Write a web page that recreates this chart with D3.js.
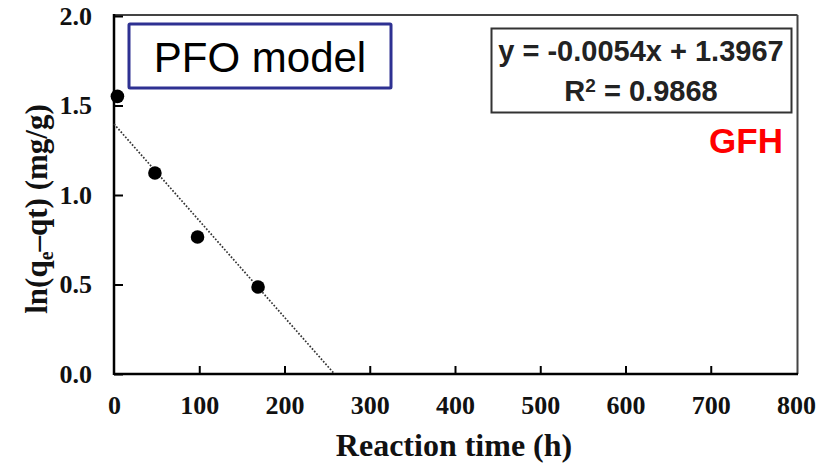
<!DOCTYPE html>
<html>
<head>
<meta charset="utf-8">
<script src="https://cdn.jsdelivr.net/npm/d3@7"></script>
<style>
  body { margin: 0; background: #fff; }
  svg { display: block; }
</style>
</head>
<body>
<div id="chart"></div>
<script>
// data
const times = [4, 48, 98, 169];
const lnValues = [1.551, 1.123, 0.765, 0.486];
const xTicks = [0, 100, 200, 300, 400, 500, 600, 700, 800];
const yTicks = [0, 0.5, 1.0, 1.5, 2.0];
const slope = -0.0054;
const intercept = 1.3967;
const eqLines = ['y = -0.0054x + 1.3967', 'R', '2', ' = 0.9868'];

const W = 817, H = 465;
const mLeft = 114, mTop = 16, mRight = 796, mBottom = 374;

const svg = d3.select('#chart').append('svg')
  .attr('width', W).attr('height', H);

const x = d3.scaleLinear().domain([0, 800]).range([mLeft, mRight]);
const y = d3.scaleLinear().domain([0, 2]).range([mBottom, mTop]);

const serif = '"Liberation Serif", "Times New Roman", serif';
const sans = '"Liberation Sans", Arial, sans-serif';

// frame: top & right thinner grey
svg.append('line')
  .attr('x1', mLeft).attr('x2', mRight + 1.5).attr('y1', mTop - 1).attr('y2', mTop - 1)
  .attr('stroke', '#444').attr('stroke-width', 2);
svg.append('line')
  .attr('x1', mRight + 1.5).attr('x2', mRight + 1.5).attr('y1', mTop - 1).attr('y2', mBottom)
  .attr('stroke', '#444').attr('stroke-width', 2);

// axes
const xAxis = d3.axisBottom(x).tickValues(xTicks).tickSizeInner(-8).tickSizeOuter(0)
  .tickPadding(22).tickFormat(d3.format('d'));
const yAxis = d3.axisLeft(y).tickValues(yTicks).tickSizeInner(-9).tickSizeOuter(0)
  .tickPadding(22).tickFormat(d3.format('.1f'));

const gx = svg.append('g').attr('transform', `translate(0,${mBottom})`).call(xAxis);
const gy = svg.append('g').attr('transform', `translate(${mLeft},0)`).call(yAxis);

[gx, gy].forEach(g => {
  g.select('.domain').remove();
  g.selectAll('.tick line').attr('stroke', '#000').attr('stroke-width', 2);
  g.selectAll('.tick text')
    .attr('fill', '#111')
    .style('font-family', serif)
    .style('font-weight', 'bold')
    .style('font-size', '26px');
});
gx.selectAll('.tick').filter(d => d === 0 || d === 800).select('line').remove();

svg.append('line')
  .attr('x1', mLeft).attr('x2', mRight + 2).attr('y1', mBottom).attr('y2', mBottom)
  .attr('stroke', '#000').attr('stroke-width', 2.5);
svg.append('line')
  .attr('x1', mLeft).attr('x2', mLeft).attr('y1', mTop - 2).attr('y2', mBottom + 1)
  .attr('stroke', '#000').attr('stroke-width', 2.5);

// trend line
const xEnd = -intercept / slope;
svg.append('line')
  .attr('x1', x(0)).attr('y1', y(intercept))
  .attr('x2', x(xEnd)).attr('y2', y(0))
  .attr('stroke', '#333').attr('stroke-width', 1.7)
  .attr('stroke-dasharray', '1.7,1.7');

// points
svg.selectAll('circle.pt')
  .data(times.map((t, i) => ({ t, v: lnValues[i] })))
  .join('circle')
  .attr('class', 'pt')
  .attr('cx', d => x(d.t))
  .attr('cy', d => y(d.v))
  .attr('r', 6.8)
  .attr('fill', '#000');

// axis titles
svg.append('text')
  .attr('x', 454).attr('y', 456)
  .attr('text-anchor', 'middle')
  .style('font-family', serif).style('font-weight', 'bold').style('font-size', '32px')
  .attr('fill', '#111')
  .text('Reaction time (h)');

const yt = svg.append('text')
  .attr('transform', 'translate(47,209) rotate(-90)')
  .attr('text-anchor', 'middle')
  .style('font-family', serif).style('font-weight', 'bold').style('font-size', '31px')
  .attr('fill', '#111');
yt.append('tspan').text('ln(q');
yt.append('tspan').text('e').style('font-size', '20px').attr('dy', 6);
yt.append('tspan').text('\u2013qt) (mg/g)').attr('dy', -6);

// PFO model box
svg.append('rect')
  .attr('x', 129).attr('y', 24).attr('width', 262).attr('height', 64)
  .attr('fill', '#fff').attr('stroke', '#2e3192').attr('stroke-width', 3).attr('rx', 1);
svg.append('text')
  .attr('x', 260).attr('y', 72).attr('text-anchor', 'middle')
  .style('font-family', sans).style('font-size', '42px').attr('fill', '#000')
  .text('PFO model');

// equation box
svg.append('rect')
  .attr('x', 491.5).attr('y', 28.5).attr('width', 300).attr('height', 84)
  .attr('fill', '#fff').attr('stroke', '#333').attr('stroke-width', 2);
svg.append('text')
  .attr('x', 641).attr('y', 61).attr('text-anchor', 'middle')
  .style('font-family', sans).style('font-weight', 'bold').style('font-size', '29px')
  .attr('fill', '#222')
  .text(eqLines[0]);
const r2 = svg.append('text')
  .attr('x', 641).attr('y', 101).attr('text-anchor', 'middle')
  .style('font-family', sans).style('font-weight', 'bold').style('font-size', '29px')
  .attr('fill', '#222');
r2.append('tspan').text(eqLines[1]);
r2.append('tspan').text(eqLines[2]).style('font-size', '19px').attr('dy', -9);
r2.append('tspan').text(eqLines[3]).attr('dy', 9);

// label
svg.append('text')
  .attr('x', 783).attr('y', 153).attr('text-anchor', 'end')
  .style('font-family', sans).style('font-weight', 'bold').style('font-size', '35px')
  .attr('fill', '#ff0000')
  .text('GFH');
</script>
</body>
</html>
